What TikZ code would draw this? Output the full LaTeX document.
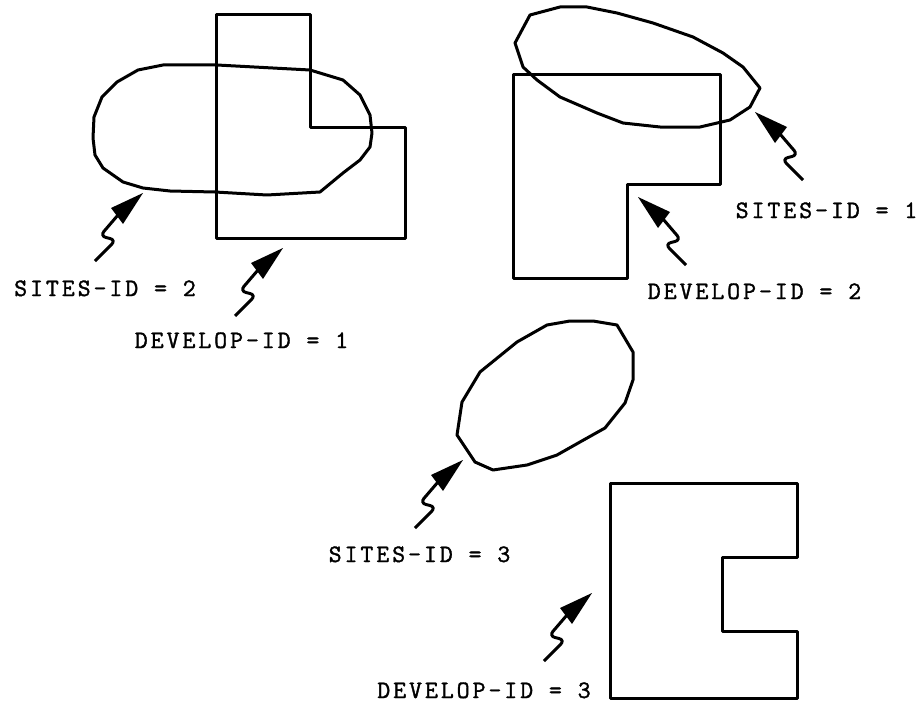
\documentclass[tikz,border=0pt]{standalone}
\usepackage{fontspec}
\newfontfamily\labelfont[LetterSpace=12,FakeBold=1.5]{Latin Modern Mono}
\tikzset{
  outline/.style={line width=3pt, line join=round},
  lbl/.style={font=\labelfont\fontsize{25}{25}\selectfont, anchor=base, inner sep=0pt},
  zig/.pic={
    \fill (0,0) -- (-32,15) -- (-20,31) -- cycle;
    \draw[line width=3pt, rounded corners=6pt] (-25,22) -- (-43,43) -- (-27,47) -- (-48,68);
  }
}
\begin{document}
\begin{tikzpicture}[x=1pt,y=-1pt]
\useasboundingbox (0,0) rectangle (924,709);
% top-left group
\draw[outline] (216,15) -- (310,15) -- (310,127) -- (405,127) -- (405,238) -- (216,238) -- cycle;
\draw[outline] (93,138) -- (94,117) -- (102,97) -- (117,82) -- (138,70) -- (163,65) -- (217,65)
  -- (310,70) -- (343,80) -- (360,95) -- (370,115) -- (372,133) -- (370,147) -- (360,160) -- (343,173)
  -- (320,192) -- (267,195) -- (215,192) -- (170,191) -- (143,188) -- (123,182) -- (103,168) -- (95,155) -- cycle;
\pic at (143,193) {zig};
\pic at (283,248) {zig};
\node[lbl] (s2) at (105,296) {SITES-ID = 2};
\node[lbl] (d1) at (241.5,348) {DEVELOP-ID = 1};
% top-right group
\draw[outline] (513,75) -- (720,75) -- (720,184) -- (627,184) -- (627,278) -- (513,278) -- cycle;
\draw[outline] (515,43) -- (530,15) -- (560,7) -- (587,7) -- (617,13) -- (653,23) -- (693,37) -- (723,53)
  -- (743,67) -- (760,88) -- (750,107) -- (730,120) -- (700,127) -- (660,127) -- (623,123) -- (597,113)
  -- (560,97) -- (537,80) -- (523,67) -- cycle;
\pic[xscale=-1] at (755,112) {zig};
\pic[xscale=-1] at (638,197) {zig};
\node[lbl] (s1) at (826.5,218) {SITES-ID = 1};
\node[lbl] (d2) at (754.5,299) {DEVELOP-ID = 2};
% bottom group
\draw[outline] (457,435) -- (462,402) -- (480,372) -- (517,342) -- (547,325) -- (570,321) -- (593,321)
  -- (617,325) -- (633,352) -- (633,380) -- (625,403) -- (605,428) -- (580,442) -- (557,455) -- (527,465)
  -- (493,470) -- (475,462) -- cycle;
\draw[outline] (610,483) -- (797,483) -- (797,557) -- (722,557) -- (722,631) -- (797,631) -- (797,698) -- (610,698) -- cycle;
\pic at (463,460) {zig};
\pic at (592,593) {zig};
\node[lbl] (s3) at (419.5,562) {SITES-ID = 3};
\node[lbl] (d3) at (484,698) {DEVELOP-ID = 3};
\end{tikzpicture}
\end{document}
